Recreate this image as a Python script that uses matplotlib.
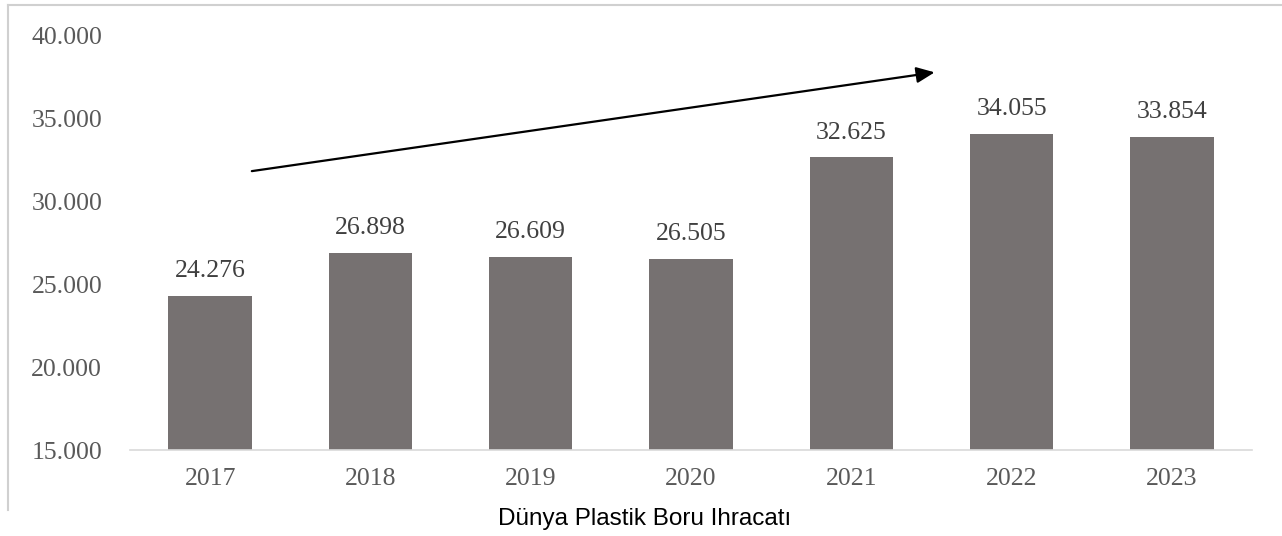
import matplotlib.pyplot as plt
from matplotlib.lines import Line2D

# ====== データ ======
years = ["2017", "2018", "2019", "2020", "2021", "2022", "2023"]
exports = [24276, 26898, 26609, 26505, 32625, 34055, 33854]
value_labels = ["24.276", "26.898", "26.609", "26.505", "32.625", "34.055", "33.854"]
y_ticks = [15000, 20000, 25000, 30000, 35000, 40000]
y_tick_labels = ["15.000", "20.000", "25.000", "30.000", "35.000", "40.000"]
# trend arrow (category index, value)
arrow_start = (0.26, 31800)
arrow_end = (4.52, 37750)

serif = ["Liberation Serif", "DejaVu Serif"]
bar_color = "#767171"

fig = plt.figure(figsize=(12.82, 5.36), dpi=100)
ax = fig.add_axes([0.1014, 0.1604, 0.8752, 0.7743])

x = range(len(years))
ax.bar(x, exports, width=0.52, color=bar_color, zorder=2)

for i, (v, lab) in enumerate(zip(exports, value_labels)):
    ax.annotate(lab, (i, v), xytext=(0, 10), textcoords="offset points",
                ha="center", va="bottom", fontsize=18.5, family=serif, color="#404040")

ax.set_xlim(-0.5, 6.5)
ax.set_ylim(15000, 40000)
ax.set_yticks(y_ticks)
ax.set_yticklabels(y_tick_labels, family=serif, fontsize=18.5, color="#595959")
ax.set_xticks(list(x))
ax.set_xticklabels(years, family=serif, fontsize=18.5, color="#595959")
ax.tick_params(axis="both", length=0)
ax.tick_params(axis="y", pad=20)
ax.tick_params(axis="x", pad=13)

for s in ["top", "right", "left"]:
    ax.spines[s].set_visible(False)
ax.spines["bottom"].set_color("#d9d9d9")
ax.spines["bottom"].set_linewidth(1.2)

ax.annotate("", xy=arrow_end, xytext=arrow_start, annotation_clip=False,
            arrowprops=dict(arrowstyle="-|>,head_length=0.5,head_width=0.22", color="black",
                            lw=1.6, mutation_scale=22, shrinkA=0, shrinkB=0))

# 外枠 (左・上)
fig.add_artist(Line2D([8 / 1282, 8 / 1282], [1 - 510 / 536, 1 - 5 / 536],
                      transform=fig.transFigure, color="#d0d0d0", lw=1.5))
fig.add_artist(Line2D([8 / 1282, 1.0], [1 - 5 / 536, 1 - 5 / 536],
                      transform=fig.transFigure, color="#d0d0d0", lw=1.5))

fig.text(645 / 1282, 1 - 519 / 536, "Dünya Plastik Boru Ihracatı", ha="center", va="center",
         fontsize=17.5, family=["Liberation Sans", "DejaVu Sans"], color="black")

fig.savefig("out.png", dpi=100)
